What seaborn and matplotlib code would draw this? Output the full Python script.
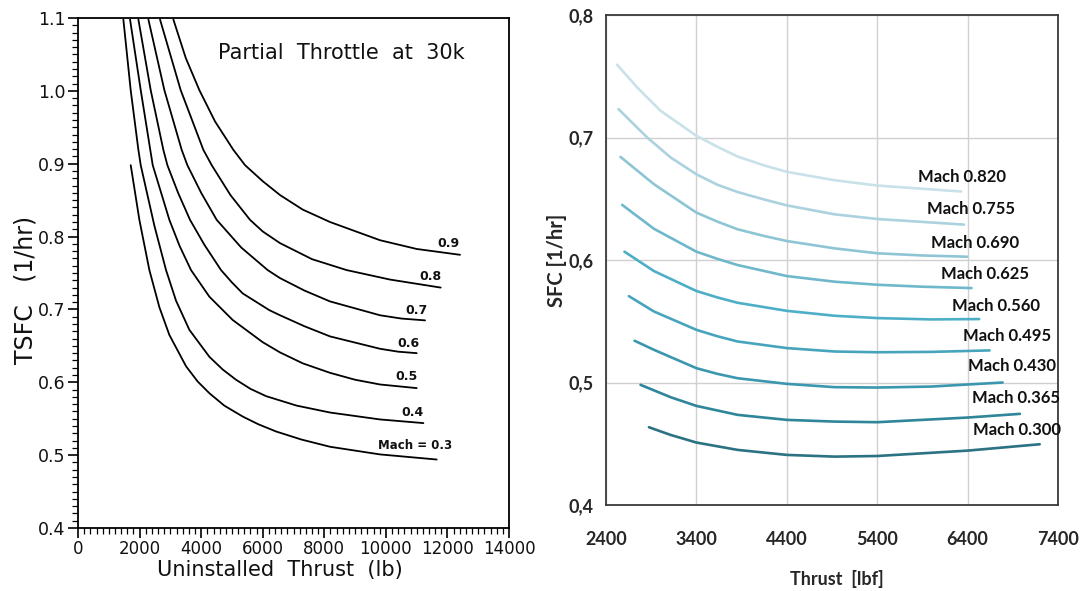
import numpy as np
import pandas as pd
import matplotlib
matplotlib.use("Agg")
import matplotlib.pyplot as plt
import seaborn as sns
from matplotlib.ticker import MultipleLocator, FixedLocator, FuncFormatter

# ---------------- Left panel data (Partial Throttle at 30k) ----------------
LEFT_MACH = ["0.3", "0.4", "0.5", "0.6", "0.7", "0.8", "0.9"]
L03_X = [1711, 1992, 2317, 2642, 2966, 3508, 3887, 4266, 4750, 5348, 5850, 6431, 7250, 8185, 9809, 11650]
L03_Y = [0.898, 0.823, 0.754, 0.703, 0.665, 0.622, 0.601, 0.585, 0.568, 0.553, 0.5425, 0.5325, 0.5215, 0.5115, 0.501, 0.494]
L04_X = [1472, 1710, 1960, 2036, 2479, 2858, 3183, 3616, 4266, 4700, 5132, 5600, 6106, 7100, 8185, 9809, 11217]
L04_Y = [1.098, 1.001, 0.919, 0.898, 0.815, 0.754, 0.712, 0.672, 0.635, 0.6175, 0.6035, 0.591, 0.581, 0.568, 0.5585, 0.549, 0.544]
L05_X = [1689, 2036, 2426, 2966, 3300, 3670, 4266, 5024, 6000, 6561, 7300, 8185, 9000, 9809, 11000]
L05_Y = [1.098, 1.001, 0.898, 0.823, 0.787, 0.754, 0.7175, 0.6855, 0.655, 0.641, 0.626, 0.613, 0.6035, 0.597, 0.592]
L06_X = [1960, 2360, 2771, 2902, 3250, 3637, 4100, 4645, 5000, 5348, 6214, 6561, 7350, 8185, 9809, 10400, 11000]
L06_Y = [1.098, 1.001, 0.919, 0.898, 0.860, 0.823, 0.789, 0.754, 0.737, 0.722, 0.699, 0.692, 0.677, 0.663, 0.646, 0.642, 0.640]
L07_X = [2285, 2804, 3367, 3551, 4000, 4503, 5300, 6160, 6561, 7350, 8185, 9809, 10500, 11271]
L07_Y = [1.098, 1.001, 0.919, 0.898, 0.860, 0.823, 0.785, 0.754, 0.743, 0.726, 0.711, 0.692, 0.6875, 0.685]
L08_X = [2663, 3334, 4071, 4342, 4950, 5586, 6000, 6561, 7600, 8726, 10134, 11780]
L08_Y = [1.098, 1.001, 0.919, 0.898, 0.857, 0.823, 0.807, 0.791, 0.769, 0.754, 0.741, 0.730]
L09_X = [3096, 3500, 3941, 4450, 5046, 5425, 6000, 6561, 7300, 8185, 9809, 11000, 12407]
L09_Y = [1.098, 1.045, 1.001, 0.958, 0.919, 0.898, 0.876, 0.857, 0.837, 0.820, 0.795, 0.783, 0.775]
LEFT_LABELS = ["Mach = 0.3", "0.4", "0.5", "0.6", "0.7", "0.8", "0.9"]

# ---------------- Right panel data ----------------
RIGHT_MACH = ["0.820", "0.755", "0.690", "0.625", "0.560", "0.495", "0.430", "0.365", "0.300"]
R820_X = [2523, 2745, 3004, 3400, 3630, 3855, 4150, 4400, 4929, 5400, 6329]
R820_Y = [0.7594, 0.7409, 0.7218, 0.7014, 0.6925, 0.6845, 0.6772, 0.6720, 0.6651, 0.6608, 0.6559]
R755_X = [2538, 2856, 3115, 3400, 3630, 3855, 4150, 4400, 4929, 5400, 6360]
R755_Y = [0.7232, 0.7000, 0.6837, 0.6700, 0.6615, 0.6555, 0.6494, 0.6446, 0.6373, 0.6335, 0.6289]
R690_X = [2560, 2930, 3400, 3630, 3855, 4150, 4400, 4929, 5400, 5900, 6394]
R690_Y = [0.6842, 0.6619, 0.6387, 0.6314, 0.6251, 0.6196, 0.6155, 0.6095, 0.6055, 0.6037, 0.6027]
R625_X = [2579, 2930, 3400, 3630, 3855, 4400, 4929, 5400, 5900, 6444]
R625_Y = [0.6450, 0.6255, 0.6068, 0.6010, 0.5959, 0.5869, 0.5823, 0.5798, 0.5782, 0.5771]
R560_X = [2604, 2930, 3400, 3630, 3855, 4400, 4929, 5400, 6000, 6528]
R560_Y = [0.6068, 0.5910, 0.5747, 0.5695, 0.5651, 0.5585, 0.5545, 0.5526, 0.5515, 0.5518]
R495_X = [2653, 2930, 3400, 3630, 3855, 4400, 4929, 5400, 6000, 6643]
R495_Y = [0.5705, 0.5580, 0.5430, 0.5378, 0.5335, 0.5281, 0.5253, 0.5247, 0.5250, 0.5262]
R430_X = [2716, 2930, 3400, 3630, 3855, 4400, 4929, 5400, 6000, 6788]
R430_Y = [0.5341, 0.5267, 0.5117, 0.5071, 0.5035, 0.4989, 0.4962, 0.4959, 0.4967, 0.5000]
R365_X = [2782, 3115, 3400, 3855, 4400, 4929, 5400, 6400, 6979]
R365_Y = [0.4981, 0.4880, 0.4809, 0.4736, 0.4695, 0.4681, 0.4676, 0.4714, 0.4744]
R300_X = [2875, 3115, 3400, 3855, 4400, 4929, 5400, 6400, 7198]
R300_Y = [0.4635, 0.4572, 0.4510, 0.4450, 0.4409, 0.4395, 0.4400, 0.4444, 0.4496]
RIGHT_LABELS = ["Mach " + m for m in RIGHT_MACH]

LEFT_XTICKS = [0, 2000, 4000, 6000, 8000, 10000, 12000, 14000]
LEFT_YTICKS = [0.4, 0.5, 0.6, 0.7, 0.8, 0.9, 1.0, 1.1]
RIGHT_XTICKS = [2400, 3400, 4400, 5400, 6400, 7400]
RIGHT_YTICKS = [0.4, 0.5, 0.6, 0.7, 0.8]

# ---------------- build tables ----------------
left_xs = [L03_X, L04_X, L05_X, L06_X, L07_X, L08_X, L09_X]
left_ys = [L03_Y, L04_Y, L05_Y, L06_Y, L07_Y, L08_Y, L09_Y]
left_df = pd.concat([pd.DataFrame({"thrust": x, "tsfc": y, "mach": m})
                     for x, y, m in zip(left_xs, left_ys, LEFT_MACH)], ignore_index=True)

right_xs = [R820_X, R755_X, R690_X, R625_X, R560_X, R495_X, R430_X, R365_X, R300_X]
right_ys = [R820_Y, R755_Y, R690_Y, R625_Y, R560_Y, R495_Y, R430_Y, R365_Y, R300_Y]
right_df = pd.concat([pd.DataFrame({"thrust": x, "sfc": y, "mach": m})
                      for x, y, m in zip(right_xs, right_ys, RIGHT_MACH)], ignore_index=True)

sns.set_style("white")
plt.rcParams["font.family"] = ["DejaVu Sans"]

fig = plt.figure(figsize=(10.81, 5.91), dpi=100)
axL = fig.add_axes([0.0722, 0.1066, 0.3987, 0.8629])
axR = fig.add_axes([0.5606, 0.1455, 0.4181, 0.8291])

# ---------------- Left panel ----------------
sns.lineplot(data=left_df, x="thrust", y="tsfc", units="mach", estimator=None, sort=False,
             color="black", linewidth=1.3, ax=axL, legend=False)
axL.set_xlim(0, 14000)
axL.set_ylim(0.4, 1.1)
axL.xaxis.set_major_locator(FixedLocator(LEFT_XTICKS))
axL.yaxis.set_major_locator(FixedLocator(LEFT_YTICKS))
axL.xaxis.set_minor_locator(MultipleLocator(200))
axL.yaxis.set_minor_locator(MultipleLocator(0.01))
axL.yaxis.set_major_formatter(FuncFormatter(lambda v, p: f"{v:.1f}"))
axL.xaxis.set_major_formatter(FuncFormatter(lambda v, p: f"{int(round(v))}"))
axL.tick_params(axis="both", which="major", direction="out", length=7, width=1.2,
                color="black", labelcolor="#111111", pad=2)
axL.tick_params(axis="x", which="major", labelsize=12)
axL.tick_params(axis="y", which="major", labelsize=12.5)
axL.tick_params(axis="both", which="minor", direction="out", length=4, width=0.9, color="black")
axL.tick_params(axis="x", which="both", bottom=True, top=False)
axL.tick_params(axis="y", which="both", left=True, right=False)
for s in axL.spines.values():
    s.set_color("black")
    s.set_linewidth(1.3)
axL.set_xlabel("Uninstalled  Thrust  (lb)", fontsize=15, color="#111111")
axL.xaxis.set_label_coords(0.469, -0.062)
axL.set_ylabel("TSFC   (1/hr)", fontsize=17, color="#111111")
axL.yaxis.set_label_coords(-0.095, 0.467)
axL.text(8555, 1.0515, "Partial  Throttle  at  30k", fontsize=15, ha="center", va="center",
         color="#111111")
left_label_pos = [(10962, 0.5126), (10870, 0.5583), (10653, 0.6077), (10729, 0.6526),
                  (10978, 0.6992), (11433, 0.745), (12028, 0.7908)]
left_label_size = [8.5, 9, 9, 9, 9, 9, 9]
for lab, (tx, ty), fs in zip(LEFT_LABELS, left_label_pos, left_label_size):
    axL.text(tx, ty, lab, fontsize=fs, fontweight="bold", ha="center", va="center",
             color="#111111")

# ---------------- Right panel ----------------
pal = ["#c9e1e9", "#abd2de", "#8ec5d5", "#6fb8cc", "#4dafc7", "#47a4bd",
       "#3b97af", "#2f8599", "#2b7282"]
sns.lineplot(data=right_df, x="thrust", y="sfc", hue="mach", hue_order=RIGHT_MACH,
             palette=pal, estimator=None, sort=False, linewidth=1.9, ax=axR, legend=False)
axR.set_xlim(2400, 7400)
axR.set_ylim(0.4, 0.8)
axR.xaxis.set_major_locator(FixedLocator(RIGHT_XTICKS))
axR.yaxis.set_major_locator(FixedLocator(RIGHT_YTICKS))
axR.grid(True, color="#d0d0d0", linewidth=1.0)
axR.set_axisbelow(True)
narrow = ["Lato", "DejaVu Sans"]
axR.yaxis.set_major_formatter(FuncFormatter(lambda v, p: f"{v:.1f}".replace(".", ",")))
axR.xaxis.set_major_formatter(FuncFormatter(lambda v, p: f"{int(round(v))}"))
axR.tick_params(axis="x", length=0, pad=19)
axR.tick_params(axis="y", length=0, pad=9)
for lbl in axR.get_xticklabels() + axR.get_yticklabels():
    lbl.set_family(narrow)
    lbl.set_fontweight("bold")
    lbl.set_fontsize(13)
for s in axR.spines.values():
    s.set_color("#3a3a3a")
    s.set_linewidth(1.3)
axR.set_xlabel("Thrust  [lbf]", family=narrow, fontweight="bold", fontsize=13)
axR.xaxis.set_label_coords(0.51, -0.133)
axR.set_ylabel("SFC [1/hr]", family=narrow, fontweight="bold", fontsize=14.5)
axR.yaxis.set_label_coords(-0.086, 0.5)
right_label_pos = [(6341, 0.6676), (6433, 0.6417), (6482, 0.6136), (6597, 0.5886),
                   (6712, 0.5621), (6834, 0.5376), (6896, 0.5136), (6934, 0.4872),
                   (6949, 0.4613)]
for lab, (tx, ty) in zip(RIGHT_LABELS, right_label_pos):
    axR.text(tx, ty, lab, family=narrow, fontweight="bold", fontsize=12, ha="center",
             va="center", color="#111111")

fig.savefig("out.png", dpi=100)
